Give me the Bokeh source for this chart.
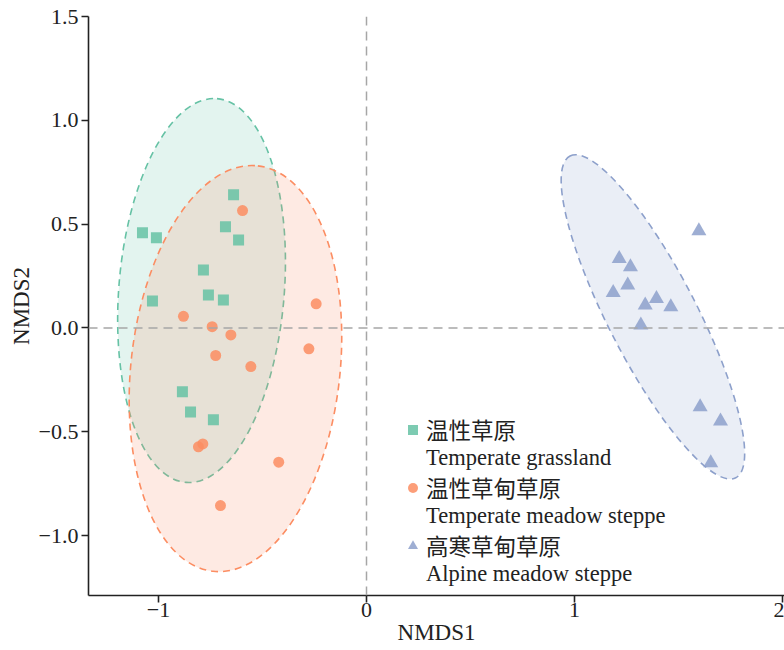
from bokeh.plotting import figure
from bokeh.models import (Range1d, FixedTicker, Legend, LegendItem, Span)
from bokeh.embed import file_html
from bokeh.resources import INLINE

# ---- data ----
tg_x = [-1.077, -1.010, -0.639, -0.678, -0.615, -0.784, -1.029, -0.760, -0.688, -0.885, -0.846, -0.736]
tg_y = [0.458, 0.434, 0.641, 0.487, 0.424, 0.279, 0.130, 0.159, 0.135, -0.308, -0.405, -0.443]

tm_x = [-0.596, -0.880, -0.742, -0.652, -0.242, -0.277, -0.725, -0.556, -0.787, -0.808, -0.422, -0.702]
tm_y = [0.565, 0.056, 0.006, -0.034, 0.116, -0.101, -0.133, -0.186, -0.559, -0.573, -0.647, -0.856]

am_x = [1.598, 1.215, 1.269, 1.256, 1.186, 1.394, 1.340, 1.463, 1.319, 1.604, 1.702, 1.655]
am_y = [0.467, 0.334, 0.294, 0.206, 0.170, 0.141, 0.109, 0.101, 0.013, -0.381, -0.449, -0.650]

# confidence ellipses: center x, center y, major, minor, angle (deg)
ell_cx = [-0.793, -0.630, 1.377]
ell_cy = [0.180, -0.196, 0.053]
ell_major = [1.851, 1.961, 1.740]
ell_minor = [0.797, 1.007, 0.427]
ell_angle = [85.4, 83.7, 117.25]

colors = ["#66c2a5", "#fc8d62", "#8da0cb"]
labels_cn = ["温性草原", "温性草甸草原", "高寒草甸草原"]
labels_en = ["Temperate grassland", "Temperate meadow steppe", "Alpine meadow steppe"]

x_ticks = [-1, 0, 1, 2]
x_tick_labels = ["\u22121", "0", "1", "2"]
y_ticks = [-1.0, -0.5, 0.0, 0.5, 1.0, 1.5]
y_tick_labels = ["\u22121.0", "\u22120.5", "0.0", "0.5", "1.0", "1.5"]

SERIF = "'Liberation Serif', 'Times New Roman', serif"
MIX = "'Liberation Serif', 'Noto Sans CJK SC'"

p = figure(width=784, height=650, output_backend="svg", toolbar_location=None,
           x_range=Range1d(-1.3365, 2.0096), y_range=Range1d(-1.289, 1.5),
           min_border_left=88, min_border_right=0, min_border_top=16, min_border_bottom=55)
p.outline_line_color = None
p.xgrid.visible = False
p.ygrid.visible = False
p.background_fill_color = "white"

# reference lines
p.add_layout(Span(location=0, dimension="width", line_color="#a6a6a6", line_width=1.5, line_dash="9 6"))
p.add_layout(Span(location=0, dimension="height", line_color="#a6a6a6", line_width=1.5, line_dash="9 6"))

# ellipses
for i in range(3):
    p.ellipse(x=[ell_cx[i]], y=[ell_cy[i]], width=[ell_major[i]], height=[ell_minor[i]],
              angle=[ell_angle[i]], angle_units="deg",
              fill_color=colors[i], fill_alpha=0.18,
              line_color=colors[i], line_width=1.6, line_dash="7 5")

markers = ["square", "circle", "triangle"]
sizes = [11, 11, 15]
xs = [tg_x, tm_x, am_x]
ys = [tg_y, tm_y, am_y]
rends = []
for i in range(3):
    r = p.scatter(x=xs[i], y=ys[i], marker=markers[i], size=sizes[i],
                  fill_color=colors[i], fill_alpha=0.85, line_color=None)
    rends.append(r)

dummy = p.scatter(x=[], y=[], size=1, fill_alpha=0, line_alpha=0)

items = []
for i in range(3):
    items.append(LegendItem(label=labels_cn[i], renderers=[rends[i]]))
    items.append(LegendItem(label=labels_en[i], renderers=[dummy]))

legend = Legend(items=items, location=(312, 8), orientation="vertical",
                border_line_color=None, background_fill_alpha=0,
                padding=0, margin=0, spacing=-5, glyph_width=25, glyph_height=25,
                label_height=25, label_standoff=1,
                label_text_font=MIX, label_text_font_size="22.5px", label_text_color="#222222")
p.add_layout(legend, "center")

# axes
for ax in (p.xaxis[0], p.yaxis[0]):
    ax.axis_line_color = "#222222"
    ax.axis_line_width = 1.6
    ax.major_tick_line_color = "#222222"
    ax.major_tick_line_width = 1.6
    ax.major_tick_out = 7
    ax.major_tick_in = 0
    ax.minor_tick_line_color = None
    ax.major_label_text_font = SERIF
    ax.major_label_text_font_size = "22px"
    ax.major_label_text_color = "#222222"
    ax.axis_label_text_font = SERIF
    ax.axis_label_text_font_size = "23px"
    ax.axis_label_text_font_style = "normal"
    ax.axis_label_text_color = "#222222"

p.xaxis.ticker = FixedTicker(ticks=x_ticks)
p.xaxis.major_label_overrides = dict(zip(x_ticks, x_tick_labels))
p.yaxis.ticker = FixedTicker(ticks=y_ticks)
p.yaxis.major_label_overrides = dict(zip(y_ticks, y_tick_labels))
p.xaxis.axis_label = "NMDS1"
p.yaxis.axis_label = "NMDS2"
p.xaxis.major_label_standoff = 0
p.xaxis.axis_label_standoff = 0
p.yaxis.major_label_standoff = 3
p.yaxis.axis_label_standoff = 2

open("out.html", "w").write(file_html(p, INLINE))
